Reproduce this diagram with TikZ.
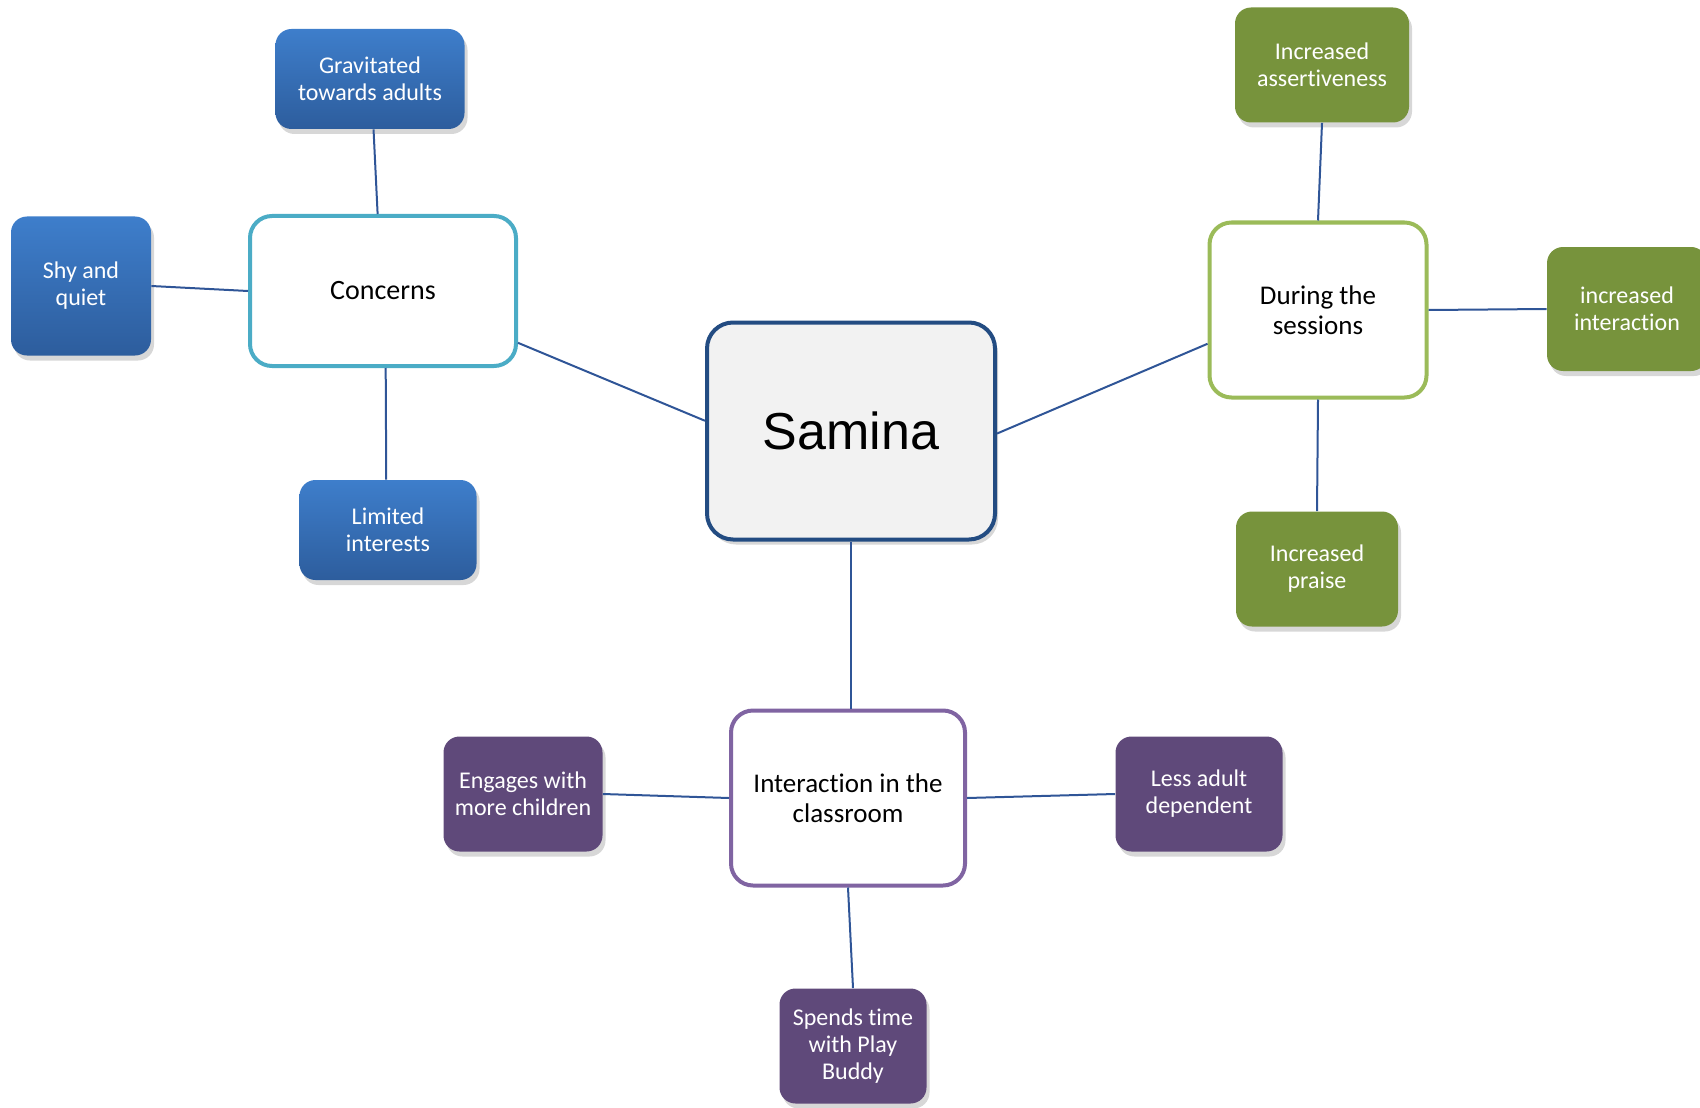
\documentclass[tikz,border=0pt]{standalone}
\usepackage{fontspec}
\setmainfont{Carlito}[Ligatures={NoCommon,NoContextual,NoRare}]
\newfontfamily\hubfont{Liberation Sans}
\usetikzlibrary{shadows}

\definecolor{leafblueTop}{RGB}{62,126,203}
\definecolor{leafblueBot}{RGB}{45,93,157}
\definecolor{leafgreen}{RGB}{119,147,60}
\definecolor{leafpurple}{RGB}{95,73,122}
\definecolor{rimaqua}{RGB}{75,172,198}
\definecolor{rimgreen}{RGB}{155,187,89}
\definecolor{rimpurple}{RGB}{128,100,162}
\definecolor{rimhub}{RGB}{35,76,130}
\definecolor{linkblue}{RGB}{47,85,151}

\begin{document}
\begin{tikzpicture}[x=0.5pt, y=-0.5pt,
  leaf/.style={rounded corners=8pt, text=white, align=center, inner sep=0pt,
    font=\fontsize{12}{13.5}\selectfont,
    drop shadow={shadow xshift=1.5pt, shadow yshift=-2.5pt, fill=black!45, opacity=0.35}},
  blueleaf/.style={leaf, top color=leafblueTop, bottom color=leafblueBot},
  greenleaf/.style={leaf, fill=leafgreen},
  purpleleaf/.style={leaf, fill=leafpurple},
  branch/.style={draw, line width=2pt, rounded corners=11pt, fill=white, align=center,
    inner sep=0pt, font=\fontsize{13.5}{15}\selectfont},
  link/.style={draw=linkblue, line width=1pt}]
\useasboundingbox (0,0) rectangle (1700,1107);
% centre
\node[draw=rimhub, line width=2pt, rounded corners=13pt, fill=black!5, inner sep=0pt,
  minimum width=144pt, minimum height=108.5pt, font=\hubfont\fontsize{26}{30}\selectfont,
  drop shadow={shadow xshift=1.5pt, shadow yshift=-2.5pt, fill=black!45, opacity=0.35}]
  (samina) at (851,431) {Samina};
% concerns (left)
\node[branch, draw=rimaqua, minimum width=133pt, minimum height=75pt, font=\fontsize{14}{16}\selectfont] (concerns) at (383,291) {Concerns};
\node[blueleaf, minimum width=94.5pt, minimum height=50pt] (gravitated) at (370,79) {Gravitated\\towards adults};
\node[blueleaf, minimum width=70pt, minimum height=69.5pt] (shy) at (81,286) {Shy and\\quiet};
\node[blueleaf, minimum width=88.5pt, minimum height=50pt] (limited) at (388,530) {Limited\\interests};
% during the sessions (right)
\node[branch, draw=rimgreen, minimum width=108.5pt, minimum height=87.5pt] (sessions) at (1318,310) {During the\\sessions};
\node[greenleaf, minimum width=87pt, minimum height=57.5pt] (assertive) at (1322,65) {Increased\\assertiveness};
\node[greenleaf, minimum width=80pt, minimum height=62pt] (interact) at (1627,309) {increased\\interaction};
\node[greenleaf, minimum width=81pt, minimum height=57.5pt] (praise) at (1317,569) {Increased\\praise};
% classroom (bottom)
\node[branch, draw=rimpurple, minimum width=117pt, minimum height=87.5pt] (classroom) at (848,798) {Interaction in the\\classroom};
\node[purpleleaf, minimum width=79.5pt, minimum height=57.5pt] (engages) at (523,794) {Engages with\\more children};
\node[purpleleaf, minimum width=83.5pt, minimum height=57.5pt] (lessadult) at (1199,794) {Less adult\\dependent};
\node[purpleleaf, minimum width=73.5pt, minimum height=57.5pt] (buddy) at (853,1046) {Spends time\\with Play\\Buddy};
% links
\draw[link] (concerns.-21) -- (samina.176);
\draw[link] (samina.-1) -- (sessions.-163);
\draw[link] (samina.south) -- (samina.south |- classroom.north);
\draw[link] (gravitated.-86.5) -- (concerns.94.5);
\draw[link] (shy.east) -- (concerns.west);
\draw[link] (concerns.-88.5) -- (limited.-268.9);
\draw[link] (assertive.south) -- (sessions.north);
\draw[link] (sessions.east) -- (interact.west);
\draw[link] (sessions.south) -- (praise.north);
\draw[link] (classroom.west) -- (engages.east);
\draw[link] (classroom.east) -- (lessadult.west);
\draw[link] (classroom.south) -- (buddy.north);
\end{tikzpicture}
\end{document}
